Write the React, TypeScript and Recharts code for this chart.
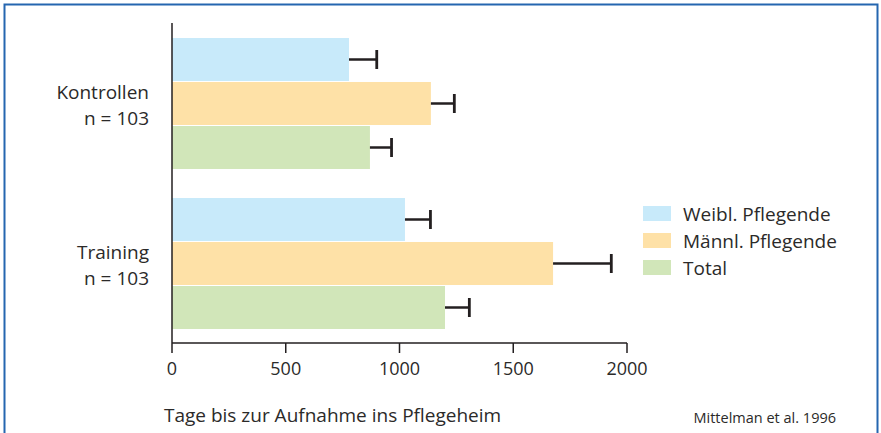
import React from 'react';
import { BarChart, Bar, XAxis, YAxis, Legend } from 'recharts';

const categories = ['Kontrollen', 'Training'];
const groupSizes = ['n = 103', 'n = 103'];
const weibl = [778, 1024];
const weiblErr = [122, 112];
const maennl = [1138, 1675];
const maennlErr = [103, 256];
const total = [870, 1200];
const totalErr = [95, 107];
const xTicks = [0, 500, 1000, 1500, 2000];

const seriesNames = ['Weibl. Pflegende', 'Männl. Pflegende', 'Total'];
const seriesColors = ['#c8eafa', '#fee1a7', '#d1e6b9'];

const data = categories.map((c, i) => ({
  cat: c,
  n: groupSizes[i],
  weibl: weibl[i],
  weiblErr: weiblErr[i],
  maennl: maennl[i],
  maennlErr: maennlErr[i],
  total: total[i],
  totalErr: totalErr[i],
}));

const FONT = '"Open Sans", "Noto Sans", sans-serif';
const TEXT = '#2b2a29';
const INK = '#231f20';

const makeShape = (key: string, errKey: string) => (props: any) => {
  const { x, y, width, height, fill, payload } = props;
  const v = payload[key];
  const err = payload[errKey];
  const pxPerUnit = v ? width / v : 0;
  const x0 = x + width;
  const ex = x0 + err * pxPerUnit;
  const cy = y + height / 2;
  return (
    <g>
      <rect x={x} y={y} width={width} height={height} fill={fill} />
      <line x1={x0} y1={cy} x2={ex} y2={cy} stroke={INK} strokeWidth={2.5} />
      <line x1={ex} y1={cy - 9.5} x2={ex} y2={cy + 9.5} stroke={INK} strokeWidth={2.8} />
    </g>
  );
};

const YTick = (props: any) => {
  const { x, y, payload, index } = props;
  return (
    <text textAnchor="end" fill={TEXT} fontFamily={FONT} fontSize={19}>
      <tspan x={x} y={y - 4}>{payload.value}</tspan>
      <tspan x={x} y={y + 22}>{groupSizes[index]}</tspan>
    </text>
  );
};

const LegendContent = () => (
  <div style={{ fontFamily: FONT, fontSize: 19, color: TEXT, textAlign: 'left' }}>
    {seriesNames.map((n, i) => (
      <div key={n} style={{ display: 'flex', alignItems: 'center', height: 27 }}>
        <div style={{ width: 28, height: 15, background: seriesColors[i], marginRight: 12 }} />
        <span style={{ whiteSpace: 'nowrap' }}>{n}</span>
      </div>
    ))}
  </div>
);

const AxisTitle = (props: any) => {
  const vb = props.viewBox;
  return (
    <text x={vb.x - 8} y={vb.y + 79} fill={TEXT} fontFamily={FONT} fontSize={19}>
      Tage bis zur Aufnahme ins Pflegeheim
    </text>
  );
};

export default function App() {
  return (
    <div style={{ position: 'absolute', left: 0, top: 0, width: 881, height: 433, background: '#fff' }}>
      <BarChart
        width={881}
        height={433}
        data={data}
        layout="vertical"
        margin={{ top: 23, right: 254, bottom: 0, left: 0 }}
        barCategoryGap={15}
        barGap={1}
      >
        <XAxis
          type="number"
          domain={[0, 2000]}
          ticks={xTicks}
          tickSize={10}
          tickMargin={9}
          height={90}
          stroke={INK}
          axisLine={{ stroke: INK, strokeWidth: 1.5 }}
          tickLine={{ stroke: INK, strokeWidth: 1.5 }}
          tick={{ fill: TEXT, fontFamily: FONT, fontSize: 18 }}
          label={{ content: AxisTitle }}
        />
        <YAxis
          type="category"
          dataKey="cat"
          width={172}
          tickSize={0}
          tickMargin={23}
          tickLine={false}
          axisLine={{ stroke: INK, strokeWidth: 1.5 }}
          tick={YTick}
        />
        <Legend
          layout="vertical"
          align="center"
          verticalAlign="middle"
          content={LegendContent}
          wrapperStyle={{ position: 'absolute', left: 643, top: 200, width: 230 }}
        />
        <Bar dataKey="weibl" name={seriesNames[0]} fill={seriesColors[0]} isAnimationActive={false} shape={makeShape('weibl', 'weiblErr')} />
        <Bar dataKey="maennl" name={seriesNames[1]} fill={seriesColors[1]} isAnimationActive={false} shape={makeShape('maennl', 'maennlErr')} />
        <Bar dataKey="total" name={seriesNames[2]} fill={seriesColors[2]} isAnimationActive={false} shape={makeShape('total', 'totalErr')} />
      </BarChart>
      <svg
        width={881}
        height={433}
        style={{ position: 'absolute', left: 0, top: 0, pointerEvents: 'none' }}
      >
        <polyline points="4.5,433 4.5,4.5 877.5,4.5 877.5,433" fill="none" stroke="#2566b0" strokeWidth={2} />
        <text x={836} y={423} textAnchor="end" fill={TEXT} fontFamily={FONT} fontSize={14.5}>
          Mittelman et al. 1996
        </text>
      </svg>
    </div>
  );
}
